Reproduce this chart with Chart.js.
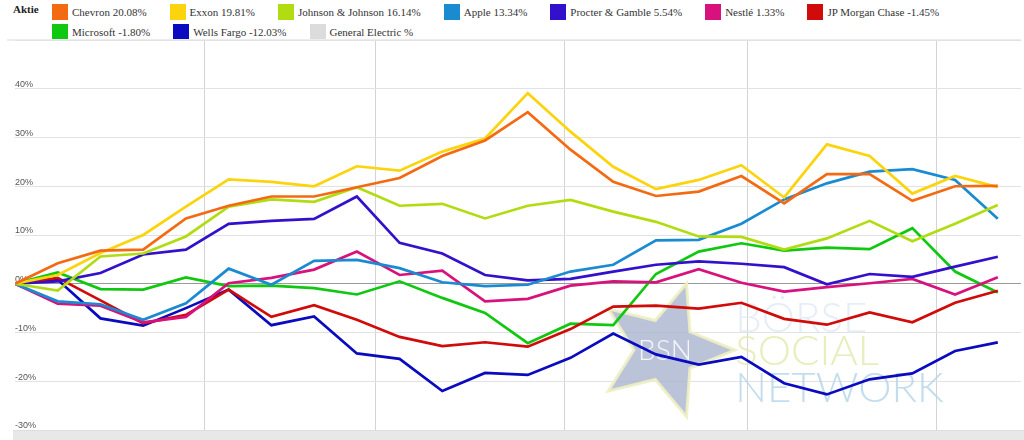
<!DOCTYPE html>
<html>
<head>
<meta charset="utf-8">
<script src="https://cdn.jsdelivr.net/npm/chart.js@4"></script>
<style>
  body { margin: 0; width: 1024px; height: 440px; overflow: hidden; background: #fff; }
  #legende { position: absolute; left: 0; top: 0; width: 1024px; height: 40px; font-family: "Liberation Serif", serif; }
  #legende .titel { position: absolute; left: 13px; top: 3px; font-weight: bold; font-size: 11px; color: #222; }
  #legende ul { position: absolute; left: 52px; top: 2px; width: 972px; margin: 0; padding: 0; list-style: none; display: flex; flex-wrap: wrap; }
  #legende li { display: flex; align-items: center; height: 20px; margin-right: 23px; font-size: 11px; color: #333; white-space: pre; }
  #legende li span.kasten { display: inline-block; width: 16px; height: 16px; margin-right: 4px; }
  #oben { position: absolute; left: 7px; top: 39px; width: 1014px; height: 2px; background: #ececec; }
  #rahmen { position: absolute; left: 0; top: 40px; width: 1024px; height: 390px; }
  #leiste { position: absolute; left: 13px; top: 430px; width: 1011px; height: 10px; background: #e8e8e8; border-top: 1px solid #dedede; box-sizing: border-box; }
</style>
</head>
<body>
<div id="legende"><span class="titel">Aktie</span><ul id="eintraege"></ul></div>
<div id="oben"></div>
<div id="rahmen"><canvas id="grafico"></canvas></div>
<div id="leiste"></div>
<script>
// Wochenwerte, Performance seit Jahresbeginn in %
var datum = ['2019-01-01', '2019-01-08', '2019-01-15', '2019-01-22', '2019-01-29', '2019-02-05',
    '2019-02-12', '2019-02-19', '2019-02-26', '2019-03-05', '2019-03-12', '2019-03-19',
    '2019-03-26', '2019-04-02', '2019-04-09', '2019-04-16', '2019-04-23', '2019-04-30',
    '2019-05-07', '2019-05-14', '2019-05-21', '2019-05-28', '2019-06-04', '2019-06-11'];
var monatsanfang = ['2019-02-01', '2019-03-01', '2019-04-01', '2019-05-01', '2019-06-01'];

var aktien = ['Chevron', 'Exxon', 'Johnson & Johnson', 'Apple', 'Procter & Gamble', 'Nestlé',
    'JP Morgan Chase', 'Microsoft', 'Wells Fargo', 'General Electric'];
var farben = ['#f46a12', '#fbd40d', '#b2dc12', '#1a8bd1', '#3311cc', '#d8117d',
    '#d10a0a', '#11c811', '#0a0abf', '#dcdcdc'];

var chevron = [0, 4.2, 6.8, 7.0, 13.4, 16.0, 17.9, 17.9, 19.8, 21.7, 26.2, 29.4, 35.2, 27.5, 20.9, 18.0, 18.9, 22.1, 16.5, 22.5, 22.5, 17.0, 20.0, 20.08];
var exxon = [0, 1.8, 6.3, 10.0, 15.8, 21.4, 20.9, 20.0, 24.1, 23.2, 27.1, 29.8, 39.1, 31.2, 24.0, 19.4, 21.3, 24.3, 17.7, 28.6, 26.2, 18.5, 22.1, 19.81];
var johnson = [0, -1.4, 5.6, 6.2, 9.7, 15.8, 17.3, 16.8, 19.8, 16.0, 16.4, 13.4, 16.0, 17.2, 14.8, 12.7, 9.7, 9.6, 7.0, 9.3, 12.9, 8.7, 12.3, 16.14];
var apple = [0, -3.6, -4.2, -7.4, -4.0, 3.1, -0.2, 4.7, 4.9, 3.2, 0.3, -0.5, -0.2, 2.5, 3.9, 8.9, 9.0, 12.3, 17.3, 20.6, 23.0, 23.5, 21.3, 13.34];
var procter = [0, 0.5, 2.2, 6.0, 7.0, 12.3, 12.9, 13.3, 17.9, 8.4, 6.2, 1.8, 0.7, 1.0, 2.5, 3.9, 4.6, 4.1, 3.4, -0.1, 2.0, 1.4, 3.5, 5.54];
var nestle = [0, -4.1, -4.5, -7.9, -6.8, 0.1, 1.2, 2.9, 6.6, 1.8, 2.7, -3.6, -3.1, -0.4, 0.5, 0.3, 3.0, 0.2, -1.6, -0.7, 0.1, 1.0, -2.2, 1.33];
var jpmorgan = [0, 1.2, -3.4, -8.1, -6.4, -1.2, -6.8, -4.4, -7.4, -10.9, -12.8, -12.0, -12.9, -9.3, -4.7, -4.5, -5.1, -3.9, -7.2, -8.4, -5.9, -7.9, -3.9, -1.45];
var microsoft = [0, 2.3, -1.1, -1.2, 1.3, -0.5, -0.4, -0.9, -2.2, 0.5, -2.9, -6.0, -12.2, -8.2, -8.5, 2.0, 6.6, 8.3, 6.8, 7.4, 7.1, 11.4, 2.5, -1.80];
var wellsfargo = [0, 0.8, -7.1, -8.6, -5.0, -1.2, -8.5, -6.7, -14.3, -15.4, -22.0, -18.3, -18.7, -15.2, -10.2, -14.5, -16.6, -15.0, -20.4, -22.7, -19.6, -18.4, -13.8, -12.03];
var generalelectric = [];

var werte = [chevron, exxon, johnson, apple, procter, nestle, jpmorgan, microsoft, wellsfargo, generalelectric];

var tag = 86400000;
function tage(d) { return (Date.parse(d) - Date.parse(datum[0])) / tag; }

var datasets = aktien.map(function (name, i) {
    return {
        label: name,
        borderColor: farben[i],
        backgroundColor: farben[i],
        borderWidth: 2.7,
        pointRadius: 0,
        tension: 0,
        data: werte[i].map(function (v, k) { return { x: tage(datum[k]), y: v }; })
    };
});

// HTML-Legende wie im Original
var htmlLegende = {
    id: 'htmlLegende',
    afterUpdate: function (chart) {
        var ul = document.getElementById('eintraege');
        ul.innerHTML = '';
        chart.data.datasets.forEach(function (ds, i) {
            var w = werte[i];
            var txt = ds.label + ' ' + (w.length ? w[w.length - 1].toFixed(2) : '') + '%';
            var li = document.createElement('li');
            var box = document.createElement('span');
            box.className = 'kasten';
            box.style.background = ds.borderColor;
            li.appendChild(box);
            li.appendChild(document.createTextNode(txt));
            ul.appendChild(li);
        });
    }
};

// Wasserzeichen (Logo) hinter den Linien
var wasserzeichen = {
    id: 'wasserzeichen',
    beforeDatasetsDraw: function (chart) {
        var ctx = chart.ctx, a = chart.chartArea;
        var w = a.right - a.left, h = a.bottom - a.top;
        var cx = a.left + w * 0.646, cy = a.top + h * 0.795;
        var R = 70, r = 31;
        ctx.save();
        ctx.beginPath();
        for (var k = 0; k < 10; k++) {
            var ang = k * Math.PI / 5;
            var rad = k % 2 ? r : R;
            ctx.lineTo(cx + rad * Math.cos(ang), cy + rad * Math.sin(ang));
        }
        ctx.closePath();
        ctx.fillStyle = 'rgba(170,180,208,0.8)';
        ctx.fill();
        ctx.strokeStyle = 'rgba(238,240,195,0.9)';
        ctx.lineWidth = 3;
        ctx.stroke();
        ctx.font = '300 28px Lato, sans-serif';
        ctx.textAlign = 'center';
        ctx.textBaseline = 'middle';
        ctx.fillStyle = 'rgba(255,255,255,0.85)';
        ctx.fillText('BSN', cx, cy + 1);

        var tx = a.left + w * 0.716;
        ctx.textAlign = 'left';
        ctx.textBaseline = 'alphabetic';
        ctx.font = '300 42px Lato, sans-serif';
        ctx.fillStyle = 'rgba(222,234,244,0.8)';
        ctx.fillText('BÖRSE', tx, a.top + h * 0.749, 146);
        ctx.fillStyle = 'rgba(226,234,170,0.8)';
        ctx.fillText('SOCIAL', tx, a.top + h * 0.833, 156);
        ctx.fillStyle = 'rgba(180,212,234,0.8)';
        ctx.fillText('NETWORK', tx, a.top + h * 0.928, 217);
        ctx.restore();
    }
};

var ctx1 = document.getElementById('grafico').getContext('2d');
window.myLine = new Chart(ctx1, {
    type: 'line',
    data: { datasets: datasets },
    plugins: [htmlLegende, wasserzeichen],
    options: {
        animation: false,
        responsive: true,
        maintainAspectRatio: false,
        layout: { padding: { left: 15, right: 3, top: 0, bottom: 0 } },
        plugins: {
            legend: { display: false },
            tooltip: { enabled: false }
        },
        scales: {
            x: {
                type: 'linear',
                min: 0,
                max: 164.8,
                afterBuildTicks: function (axis) {
                    axis.ticks = monatsanfang.map(function (d) { return { value: tage(d) }; });
                },
                ticks: { display: false },
                border: { display: false },
                grid: { color: '#d4d4d4', drawTicks: false }
            },
            y: {
                min: -30,
                max: 50,
                afterFit: function (axis) {
                    // Achse soll die volle Hoehe nutzen, Beschriftung liegt innen
                    axis.paddingTop = 0;
                    axis.paddingBottom = 0;
                },
                ticks: {
                    stepSize: 10,
                    mirror: true,
                    padding: 0,
                    labelOffset: -4,
                    color: '#555',
                    font: { family: 'Liberation Sans', size: 9 },
                    callback: function (v) { return v === 50 ? '' : v + '%'; }
                },
                border: { display: false },
                grid: {
                    drawTicks: false,
                    color: function (c) { return c.tick && c.tick.value === 0 ? '#9a9a9a' : '#e2e2e2'; }
                }
            }
        }
    }
});
</script>
</body>
</html>
